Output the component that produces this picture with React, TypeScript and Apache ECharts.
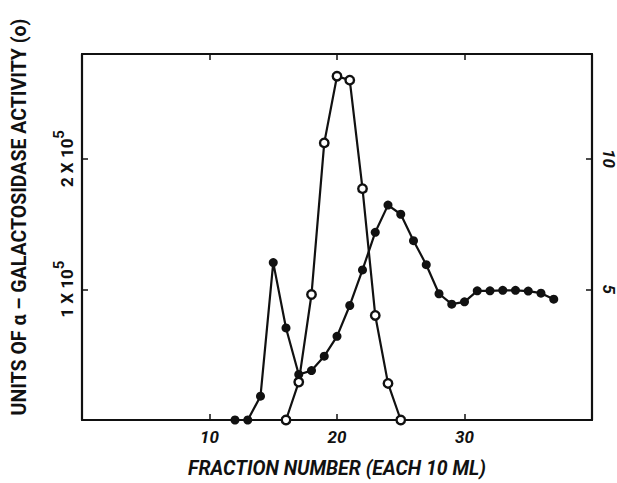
import React, { useEffect, useRef } from "react";
import * as echarts from "echarts";

// Fraction numbers and values
const openFractions = [16, 17, 18, 19, 20, 21, 22, 23, 24, 25];
const openActivity = [0, 29000, 96000, 212000, 263000, 260000, 177000, 80000, 28000, 0];

const filledFractions = [12, 13, 14, 15, 16, 17, 18, 19, 20, 21, 22, 23, 24, 25, 26, 27, 28, 29, 30, 31, 32, 33, 34, 35, 36, 37];
const filledValues = [0, 0, 0.91, 6.02, 3.52, 1.74, 1.89, 2.44, 3.2, 4.38, 5.74, 7.18, 8.22, 7.87, 6.86, 5.94, 4.83, 4.43, 4.52, 4.94, 4.94, 4.96, 4.96, 4.93, 4.85, 4.62];

const xTickLabels = [10, 20, 30];
const leftTickLabels = [100000, 200000];
const rightTickLabels = [5, 10];

const xTitle = "FRACTION NUMBER (EACH 10 ML)";
const yTitle = "UNITS OF \u03b1 \u2013 GALACTOSIDASE ACTIVITY (o)";

const FONT = "Roboto";
const INK = "#111";

export default function App() {
  const ref = useRef<HTMLDivElement>(null);
  useEffect(() => {
    document.body.style.margin = "0";
    const chart = echarts.init(ref.current!, null, { renderer: "svg" });
    const openData = openFractions.map((f, i) => [f, openActivity[i]]);
    const filledData = filledFractions.map((f, i) => [f, filledValues[i]]);
    const axisLine = { show: true, onZero: false, lineStyle: { color: INK, width: 2.2 } };
    const axisTick = { show: true, inside: true, length: 6, lineStyle: { color: INK, width: 1.5 } };
    chart.setOption({
      animation: false,
      backgroundColor: "#fff",
      grid: { left: 82, right: 23, top: 54, bottom: 59, containLabel: false },
      graphic: [
        {
          type: "text",
          x: 19,
          y: 217,
          rotation: Math.PI / 2,
          style: {
            text: yTitle,
            fill: INK,
            font: `bold 19.5px ${FONT}`,
            textAlign: "center",
            textVerticalAlign: "middle",
          },
        },
      ],
      xAxis: [
        {
          type: "value",
          min: 0,
          max: 40,
          interval: 10,
          position: "bottom",
          axisLine,
          axisTick,
          splitLine: { show: false },
          axisLabel: {
            margin: 8,
            fontFamily: FONT,
            fontWeight: "bold",
            fontStyle: "italic",
            fontSize: 17,
            color: INK,
            formatter: (v: number) => (xTickLabels.includes(v) ? String(v) : ""),
          },
          name: xTitle,
          nameLocation: "middle",
          nameGap: 38,
          nameTextStyle: { fontFamily: FONT, fontWeight: "bold", fontStyle: "italic", fontSize: 19.5, color: INK },
        },
        {
          type: "value",
          min: 0,
          max: 40,
          interval: 10,
          position: "top",
          axisLine,
          axisTick,
          splitLine: { show: false },
          axisLabel: { show: false },
        },
      ],
      yAxis: [
        {
          type: "value",
          min: 0,
          max: 280000,
          interval: 100000,
          position: "left",
          axisLine,
          axisTick,
          splitLine: { show: false },
          axisLabel: {
            rotate: 90,
            margin: 7,
            color: INK,
            formatter: (v: number) =>
              leftTickLabels.includes(v) ? `{b|${v / 100000} X 10}{s|5}` : "",
            rich: {
              b: { fontFamily: FONT, fontWeight: "bold", fontSize: 17, color: INK, lineHeight: 24, verticalAlign: "bottom" },
              s: { fontFamily: FONT, fontWeight: "bold", fontSize: 15, color: INK, lineHeight: 24, verticalAlign: "top" },
            },
          },
        },
        {
          type: "value",
          min: 0,
          max: 14,
          interval: 5,
          position: "right",
          axisLine,
          axisTick,
          splitLine: { show: false },
          axisLabel: {
            rotate: -90,
            margin: 8,
            fontFamily: FONT,
            fontWeight: "bold",
            fontStyle: "italic",
            fontSize: 17,
            color: INK,
            formatter: (v: number) => (rightTickLabels.includes(v) ? String(v) : ""),
          },
        },
      ],
      series: [
        {
          type: "line",
          xAxisIndex: 0,
          yAxisIndex: 0,
          data: openData,
          symbol: "circle",
          symbolSize: 8.5,
          lineStyle: { color: INK, width: 2.2 },
          itemStyle: { color: "#fff", borderColor: INK, borderWidth: 2.4 },
          clip: false,
          z: 3,
        },
        {
          type: "line",
          xAxisIndex: 0,
          yAxisIndex: 1,
          data: filledData,
          symbol: "circle",
          symbolSize: 9,
          lineStyle: { color: INK, width: 2.2 },
          itemStyle: { color: INK, borderColor: INK, borderWidth: 0 },
          clip: false,
          z: 2,
        },
      ],
    });
    return () => chart.dispose();
  }, []);
  return <div ref={ref} style={{ width: 617, height: 483 }} />;
}
